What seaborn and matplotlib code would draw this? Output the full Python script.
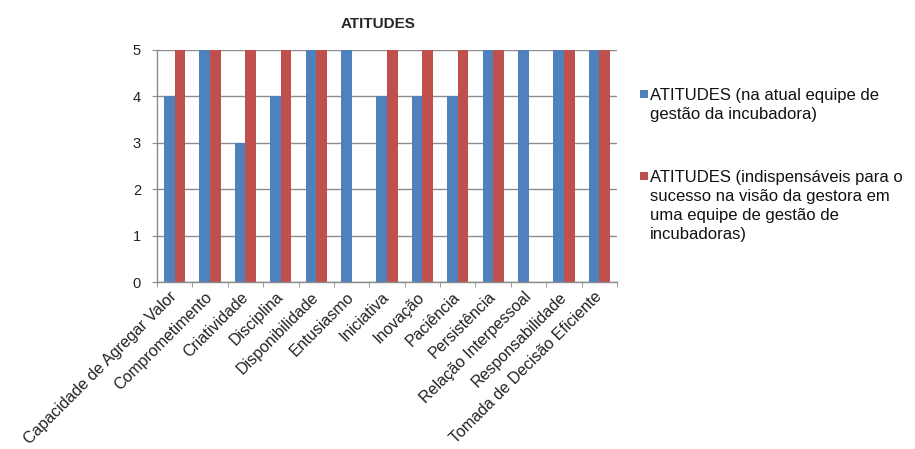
import pandas as pd
import matplotlib.pyplot as plt
import seaborn as sns
from matplotlib.ticker import FixedLocator
from matplotlib.patches import Rectangle

sns.set_style("white")
plt.rcParams['font.family'] = ['Liberation Sans', 'DejaVu Sans']

# Dados
atitudes = ["Capacidade de Agregar Valor", "Comprometimento", "Criatividade", "Disciplina",
            "Disponibilidade", "Entusiasmo", "Iniciativa", "Inovação", "Paciência",
            "Persistência", "Relação Interpessoal", "Responsabilidade", "Tomada de Decisão Eficiente"]
atual = [4, 5, 3, 4, 5, 5, 4, 4, 4, 5, 5, 5, 5]
indispensaveis = [5, 5, 5, 5, 5, 0, 5, 5, 5, 5, 0, 5, 5]
series = ["ATITUDES (na atual equipe de\ngestão da incubadora)",
          "ATITUDES (indispensáveis para o\nsucesso na visão da gestora em\numa equipe de gestão de\nincubadoras)"]
cores = ["#4F81BD", "#C0504D"]

df = pd.DataFrame({
    "atitude": atitudes * 2,
    "valor": atual + indispensaveis,
    "serie": [series[0]] * len(atitudes) + [series[1]] * len(atitudes),
})

fig = plt.figure(figsize=(9.15, 4.49), dpi=100)
ax = fig.add_axes([157 / 915, 1 - 282 / 449, 460 / 915, 232 / 449])

sns.barplot(data=df, x="atitude", y="valor", hue="serie", palette=cores,
            width=0.6, saturation=1, linewidth=0, ax=ax, legend=False)

ax.set_ylim(0, 5)
ax.set_xlim(-0.5, len(atitudes) - 0.5)
ax.set_yticks(range(6))
ax.yaxis.grid(True, color="#8c8c8c", linewidth=1)
ax.set_axisbelow(True)
ax.set_xlabel("")
ax.set_ylabel("")

for s in ["top", "right"]:
    ax.spines[s].set_visible(False)
for s in ["left", "bottom"]:
    ax.spines[s].set_color("#8c8c8c")
    ax.spines[s].set_linewidth(1)

# marcas do eixo x entre as categorias
ax.xaxis.set_minor_locator(FixedLocator([i - 0.5 for i in range(len(atitudes) + 1)]))
ax.tick_params(axis="x", which="minor", length=3.6, color="#8c8c8c", bottom=True)
ax.tick_params(axis="x", which="major", length=0, pad=9, labelsize=11.5, labelcolor="#222222")
ax.tick_params(axis="y", length=3.6, color="#8c8c8c", left=True, labelsize=10.5,
               labelcolor="#222222", pad=8)
plt.setp(ax.get_xticklabels(), rotation=45, ha="right", va="center", rotation_mode="anchor")

ax.set_title("ATITUDES", fontsize=11, fontweight="bold", pad=16, x=(378 - 157) / 460)

# legenda à direita
leg_y = [88, 170]
for cor, rotulo, y in zip(cores, series, leg_y):
    fig.patches.append(Rectangle((640 / 915, 1 - (y + 10) / 449), 8 / 915, 8 / 449,
                                 transform=fig.transFigure, facecolor=cor, edgecolor="none"))
    fig.text(650 / 915, 1 - y / 449, rotulo, fontsize=12, color="#111111",
             va="top", ha="left", linespacing=1.32)

fig.savefig("out.png", dpi=100)
